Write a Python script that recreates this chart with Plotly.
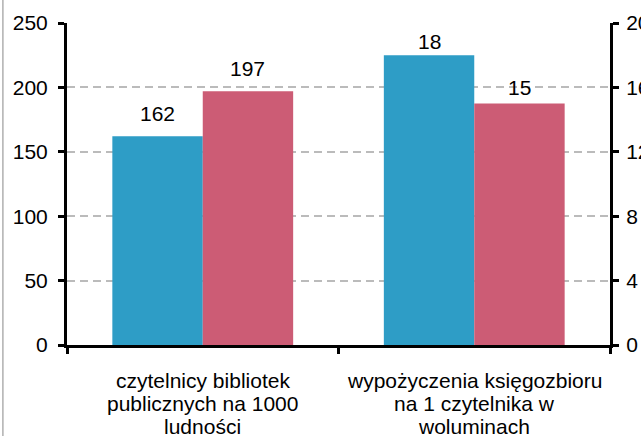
import plotly.graph_objects as go

category_lines = [["czytelnicy bibliotek", "publicznych na 1000", "ludności"],
                  ["wypożyczenia księgozbioru", "na 1 czytelnika w", "woluminach"]]
categories = [" ".join(lines) for lines in category_lines]
blue_values = [162, 18]
red_values = [197, 15]
value_axis = ["y", "y2"]          # first category on left axis, second on right axis
left_ticks = [0, 50, 100, 150, 200, 250]
right_ticks = [0, 4, 8, 12, 16, 20]

BLUE = "#2E9DC6"
RED = "#CC5C75"
FONT = "Liberation Sans, Arial, sans-serif"

fig = go.Figure()
label_shift_blue = [23, 14]
label_shift_red = [23, 16]
for i, cat in enumerate(categories):
    ax = value_axis[i]
    fig.add_trace(go.Bar(x=[cat], y=[blue_values[i]], yaxis=ax, marker_color=BLUE,
                         width=0.333, offset=-0.333, showlegend=False, hoverinfo="skip"))
    fig.add_trace(go.Bar(x=[cat], y=[red_values[i]], yaxis=ax, marker_color=RED,
                         width=0.333, offset=0.0, showlegend=False, hoverinfo="skip"))
    fig.add_annotation(x=cat, y=blue_values[i], yref=ax, xshift=-45, yshift=label_shift_blue[i],
                       text=str(blue_values[i]), showarrow=False, yanchor="middle",
                       font=dict(size=21, color="black", family=FONT))
    fig.add_annotation(x=cat, y=red_values[i], yref=ax, xshift=45, yshift=label_shift_red[i],
                       text=str(red_values[i]), showarrow=False, yanchor="middle",
                       font=dict(size=21, color="black", family=FONT))
    # category label, one line per annotation (tighter line spacing than plotly tick labels)
    for k, line in enumerate(category_lines[i]):
        fig.add_annotation(x=cat, y=0, yref="paper", yshift=-35 - 23 * k,
                           text=line, showarrow=False, yanchor="middle",
                           font=dict(size=21, color="black", family=FONT))

fig.add_shape(type="line", xref="paper", yref="paper", x0=-0.118, x1=-0.118, y0=-1, y1=2,
              line=dict(color="#888888", width=1))

fig.update_layout(
    template="none",
    width=641, height=436,
    margin=dict(l=67, r=31, t=23, b=91, autoexpand=False),
    paper_bgcolor="white", plot_bgcolor="white",
    barmode="overlay",
    font=dict(family=FONT, size=21, color="black"),
    xaxis=dict(type="category", showline=True, linecolor="black", linewidth=3,
               ticks="outside", ticklen=6, tickwidth=3, tickcolor="black",
               tickson="boundaries", showgrid=False, automargin=False,
               showticklabels=False),
    yaxis=dict(range=[0, 250], tickvals=left_ticks, showline=True, linecolor="black", linewidth=3,
               ticks="outside", ticklen=6, tickwidth=3, tickcolor="black",
               showgrid=True, gridcolor="#BBBBBB", gridwidth=1.5, griddash="8px,5px",
               zeroline=False, automargin=False, ticklabelstandoff=6,
               tickfont=dict(size=21, color="black", family=FONT)),
    yaxis2=dict(range=[0, 20], tickvals=right_ticks, overlaying="y", side="right",
                showline=True, linecolor="black", linewidth=3,
                ticks="outside", ticklen=6, tickwidth=3, tickcolor="black",
                showgrid=False, zeroline=False, automargin=False, ticklabelstandoff=3,
                tickfont=dict(size=21, color="black", family=FONT)),
)

fig.write_html("out.html", config={"displayModeBar": False},
               post_script="document.body.style.margin='0';")
